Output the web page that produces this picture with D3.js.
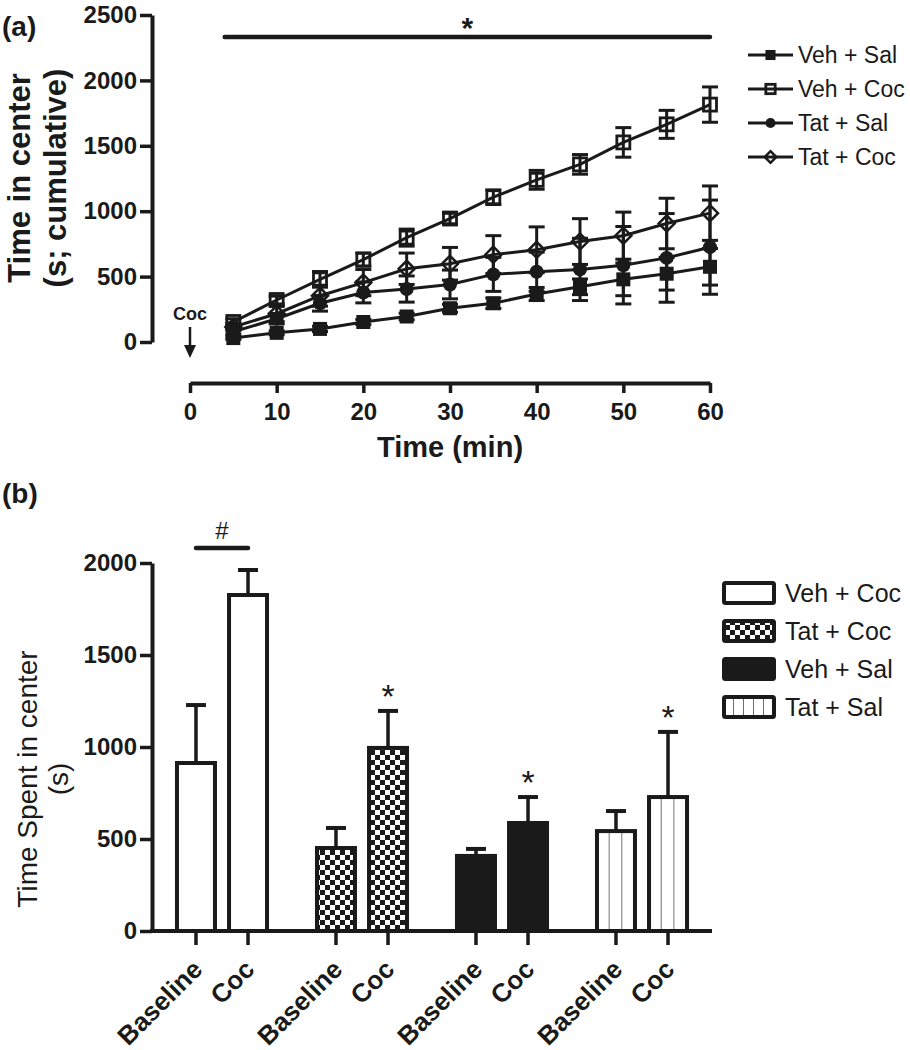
<!DOCTYPE html>
<html><head><meta charset="utf-8">
<script src="https://cdn.jsdelivr.net/npm/d3@7"></script>
<style>
body{margin:0;background:#fff}
svg text{font-family:"Liberation Sans",Arial,Helvetica,sans-serif;fill:#1a1a1a}
</style>
</head><body>
<svg id="chart" width="910" height="1050"></svg>
<script>
// ---------- Panel (a) data ----------
const times = [5,10,15,20,25,30,35,40,45,50,55,60];
const seriesNames = ["Veh + Sal","Veh + Coc","Tat + Sal","Tat + Coc"];
const vehSal    = [30,70,100,153,195,258,296,367,422,479,522,575];
const vehSalErr = [10,15,20,20,25,30,40,50,60,125,125,140];
const vehCoc    = [153,321,479,630,798,944,1107,1240,1358,1526,1664,1815];
const vehCocErr = [25,30,60,50,65,40,56,72,75,113,107,135];
const tatSal    = [78,178,296,379,405,440,517,537,555,587,643,725];
const tatSalErr = [20,40,60,80,100,110,130,150,238,296,339,360];
const tatCoc    = [115,216,354,454,560,598,668,705,768,813,906,985];
const tatCocErr = [30,60,80,100,120,125,145,175,175,180,193,208];
const xTicksA = [0,10,20,30,40,50,60];
const yTicksA = [0,500,1000,1500,2000,2500];

// ---------- Panel (b) data ----------
const groups = ["Veh + Coc","Tat + Coc","Veh + Sal","Tat + Sal"];
const conditions = ["Baseline","Coc"];
const baselineMeans = [913,451,408,543];
const baselineErr   = [315,109,38,109];
const cocMeans      = [1826,995,587,728];
const cocErr        = [136,201,141,354];
const yTicksB = [0,500,1000,1500,2000];
const cocMarks = ["#","*","*","*"];

const INK = "#1a1a1a";
const svg = d3.select("#chart");

// patterns
const defs = svg.append("defs");
const chk = defs.append("pattern").attr("id","checker").attr("patternUnits","userSpaceOnUse")
  .attr("width",10).attr("height",10);
chk.append("rect").attr("width",10).attr("height",10).attr("fill","#fff");
chk.append("rect").attr("width",5).attr("height",5).attr("fill",INK);
chk.append("rect").attr("x",5).attr("y",5).attr("width",5).attr("height",5).attr("fill",INK);
function vlinePattern(id, n, w){
  const p = defs.append("pattern").attr("id",id).attr("patternUnits","objectBoundingBox")
    .attr("patternContentUnits","objectBoundingBox").attr("width",1/n).attr("height",1);
  p.append("rect").attr("width",1/n).attr("height",1).attr("fill","#fff");
  p.append("rect").attr("x",1/n-w/2).attr("width",w).attr("height",1).attr("fill","#6e6e6e");
}
vlinePattern("vlines3",3,0.05);
vlinePattern("vlines5",5,0.04);

const fmt = d3.format("d");

// ================= Panel (a) =================
const xA = d3.scaleLinear().domain([0,60]).range([190,710]);
const yA = d3.scaleLinear().domain([0,2500]).range([342,15]);
const gA = svg.append("g");

function styleAxis(g, fs){
  g.select(".domain").attr("stroke",INK).attr("stroke-width",4);
  g.selectAll(".tick line").attr("stroke",INK).attr("stroke-width",3.5);
  g.selectAll(".tick text").attr("font-size",fs).attr("font-weight","bold").attr("fill",INK)
    .attr("font-family","Liberation Sans, Arial, sans-serif");
}

const yAxA = gA.append("g").attr("transform","translate(152,0)")
  .call(d3.axisLeft(yA).tickValues(yTicksA).tickFormat(fmt).tickSize(12).tickSizeOuter(0).tickPadding(3));
styleAxis(yAxA,24);
const xAxA = gA.append("g").attr("transform","translate(0,383)")
  .call(d3.axisBottom(xA).tickValues(xTicksA).tickFormat(fmt).tickSize(10).tickSizeOuter(0).tickPadding(10));
styleAxis(xAxA,24);

gA.append("text").attr("x",450).attr("y",457).attr("text-anchor","middle")
  .attr("font-size",29).attr("font-weight","bold").text("Time (min)");
const ylA = gA.append("g").attr("transform","translate(0,178) rotate(-90)");
ylA.append("text").attr("x",0).attr("y",30).attr("text-anchor","middle")
  .attr("font-size",31).attr("font-weight","bold").text("Time in center");
ylA.append("text").attr("x",0).attr("y",66).attr("text-anchor","middle")
  .attr("font-size",31).attr("font-weight","bold").text("(s; cumulative)");
gA.append("text").attr("x",2).attr("y",36).attr("font-size",28).attr("font-weight","bold").text("(a)");

// significance bar
gA.append("line").attr("x1",xA(4)).attr("x2",xA(60)).attr("y1",37).attr("y2",37)
  .attr("stroke",INK).attr("stroke-width",4.5).attr("stroke-linecap","round");
gA.append("text").attr("x",(xA(4)+xA(60))/2).attr("y",38).attr("text-anchor","middle")
  .attr("font-size",30).attr("font-weight","bold").text("*");

// Coc arrow
gA.append("text").attr("x",xA(0)).attr("y",320).attr("text-anchor","middle")
  .attr("font-size",18).attr("font-weight","bold").text("Coc");
gA.append("line").attr("x1",xA(0)).attr("x2",xA(0)).attr("y1",327).attr("y2",348)
  .attr("stroke",INK).attr("stroke-width",2.5);
gA.append("path").attr("d",`M${xA(0)-6},345 L${xA(0)+6},345 L${xA(0)},358 Z`).attr("fill",INK);

const series = [
  {name:seriesNames[0], vals:vehSal, err:vehSalErr, marker:"sqFill"},
  {name:seriesNames[1], vals:vehCoc, err:vehCocErr, marker:"sqOpen"},
  {name:seriesNames[2], vals:tatSal, err:tatSalErr, marker:"circle"},
  {name:seriesNames[3], vals:tatCoc, err:tatCocErr, marker:"diamond"}
];

function drawMarker(g, type, cx, cy, s){
  if(type==="sqFill"){
    g.append("rect").attr("x",cx-7*s).attr("y",cy-7*s).attr("width",14*s).attr("height",14*s).attr("fill",INK);
  } else if(type==="sqOpen"){
    g.append("rect").attr("x",cx-6.5*s).attr("y",cy-6.5*s).attr("width",13*s).attr("height",13*s)
      .attr("fill","none").attr("stroke",INK).attr("stroke-width",2.8);
  } else if(type==="circle"){
    g.append("circle").attr("cx",cx).attr("cy",cy).attr("r",7*s).attr("fill",INK);
  } else {
    const r = 8*s;
    g.append("path").attr("d",`M${cx},${cy-r}L${cx+r},${cy}L${cx},${cy+r}L${cx-r},${cy}Z`)
      .attr("fill","none").attr("stroke",INK).attr("stroke-width",2.5);
  }
}

const line = d3.line().x(d=>xA(d.t)).y(d=>yA(d.v));
const dataG = gA.append("g");
series.forEach(s=>{
  const pts = times.map((t,i)=>({t, v:s.vals[i], e:s.err[i]}));
  const eg = dataG.append("g");
  pts.forEach(p=>{
    const cx = xA(p.t), y1 = yA(p.v+p.e), y2 = yA(Math.max(0,p.v-p.e));
    eg.append("line").attr("x1",cx).attr("x2",cx).attr("y1",y1).attr("y2",y2).attr("stroke",INK).attr("stroke-width",3);
    eg.append("line").attr("x1",cx-8).attr("x2",cx+8).attr("y1",y1).attr("y2",y1).attr("stroke",INK).attr("stroke-width",3);
    eg.append("line").attr("x1",cx-8).attr("x2",cx+8).attr("y1",y2).attr("y2",y2).attr("stroke",INK).attr("stroke-width",3);
  });
  dataG.append("path").datum(pts).attr("d",line).attr("fill","none").attr("stroke",INK).attr("stroke-width",3);
});
series.forEach(s=>{
  const mg = dataG.append("g");
  times.forEach((t,i)=>drawMarker(mg, s.marker, xA(t), yA(s.vals[i]), 1));
});

// legend (a)
const legA = gA.append("g");
series.forEach((s,i)=>{
  const ly = 55 + i*34;
  legA.append("line").attr("x1",748).attr("x2",793).attr("y1",ly).attr("y2",ly).attr("stroke",INK).attr("stroke-width",3);
  drawMarker(legA, s.marker, 770.5, ly, 0.72);
  legA.append("text").attr("x",798).attr("y",ly+8).attr("font-size",23).text(s.name);
});

// ================= Panel (b) =================
const gB = svg.append("g");
const yB = d3.scaleLinear().domain([0,2000]).range([931,563]);
const x0 = d3.scaleBand().domain(groups).range([152,712]).padding(0);
const x1 = d3.scaleBand().domain(conditions).range([0,x0.bandwidth()]).paddingInner(0.27).paddingOuter(0.48);
const fills = {"Veh + Coc":"#fff","Tat + Coc":"url(#checker)","Veh + Sal":INK,"Tat + Sal":"url(#vlines3)"};
const legendFills = {"Veh + Coc":"#fff","Tat + Coc":"url(#checker)","Veh + Sal":INK,"Tat + Sal":"url(#vlines5)"};

const barData = [];
groups.forEach((g,i)=>{
  barData.push({g, c:"Baseline", v:baselineMeans[i], e:baselineErr[i]});
  barData.push({g, c:"Coc", v:cocMeans[i], e:cocErr[i], mark:cocMarks[i]});
});

const yAxB = gB.append("g").attr("transform","translate(152,0)")
  .call(d3.axisLeft(yB).tickValues(yTicksB).tickFormat(fmt).tickSize(12).tickSizeOuter(0).tickPadding(3));
styleAxis(yAxB,24);

barData.forEach(d=>{
  const bx = x0(d.g)+x1(d.c), bw = x1.bandwidth(), cx = bx+bw/2;
  const et = yB(d.v+d.e);
  gB.append("line").attr("x1",cx).attr("x2",cx).attr("y1",yB(d.v)).attr("y2",et).attr("stroke",INK).attr("stroke-width",3.5);
  gB.append("line").attr("x1",cx-10).attr("x2",cx+10).attr("y1",et).attr("y2",et).attr("stroke",INK).attr("stroke-width",4);
  gB.append("rect").attr("x",bx).attr("y",yB(d.v)).attr("width",bw).attr("height",yB(0)-yB(d.v))
    .attr("fill",fills[d.g]).attr("stroke",INK).attr("stroke-width",4);
  if(d.mark==="*"){
    gB.append("text").attr("x",cx).attr("y",et-3).attr("text-anchor","middle").attr("font-size",34).text("*");
  }
});
// # comparison
{
  const xa = x0(groups[0])+x1("Baseline")+x1.bandwidth()/2, xb = x0(groups[0])+x1("Coc")+x1.bandwidth()/2;
  gB.append("line").attr("x1",xa).attr("x2",xb).attr("y1",548).attr("y2",548).attr("stroke",INK).attr("stroke-width",4.5).attr("stroke-linecap","round");
  gB.append("text").attr("x",(xa+xb)/2).attr("y",539).attr("text-anchor","middle").attr("font-size",24).text("#");
}

// x axis (b)
groups.forEach(g=>{
  const ax = gB.append("g").attr("transform",`translate(${x0(g)},931)`)
    .call(d3.axisBottom(x1).tickSize(14).tickSizeOuter(0));
  ax.select(".domain").remove();
  ax.selectAll(".tick line").attr("stroke",INK).attr("stroke-width",3.5);
  ax.selectAll(".tick text").attr("font-size",26).attr("font-weight","bold").attr("fill",INK)
    .attr("font-family","Liberation Sans, Arial, sans-serif")
    .attr("text-anchor","end").attr("x",0).attr("y",0).attr("dy",0)
    .attr("transform","translate(8,40) rotate(-45)");
});
gB.append("line").attr("x1",150).attr("x2",712).attr("y1",931).attr("y2",931).attr("stroke",INK).attr("stroke-width",4);

const ylB = gB.append("g").attr("transform","translate(0,779) rotate(-90)");
ylB.append("text").attr("x",0).attr("y",37).attr("text-anchor","middle").attr("font-size",28).text("Time Spent in center");
ylB.append("text").attr("x",0).attr("y",68).attr("text-anchor","middle").attr("font-size",28).text("(s)");
gB.append("text").attr("x",2).attr("y",503).attr("font-size",28).attr("font-weight","bold").text("(b)");

// legend (b)
const legB = gB.append("g");
groups.forEach((g,i)=>{
  const cy = 593 + i*38;
  legB.append("rect").attr("x",724).attr("y",cy-10).attr("width",50).attr("height",20)
    .attr("fill",legendFills[g]).attr("stroke",INK).attr("stroke-width",4).attr("rx",1.5);
  legB.append("text").attr("x",785).attr("y",cy+9).attr("font-size",25).text(g);
});
</script>
</body></html>
